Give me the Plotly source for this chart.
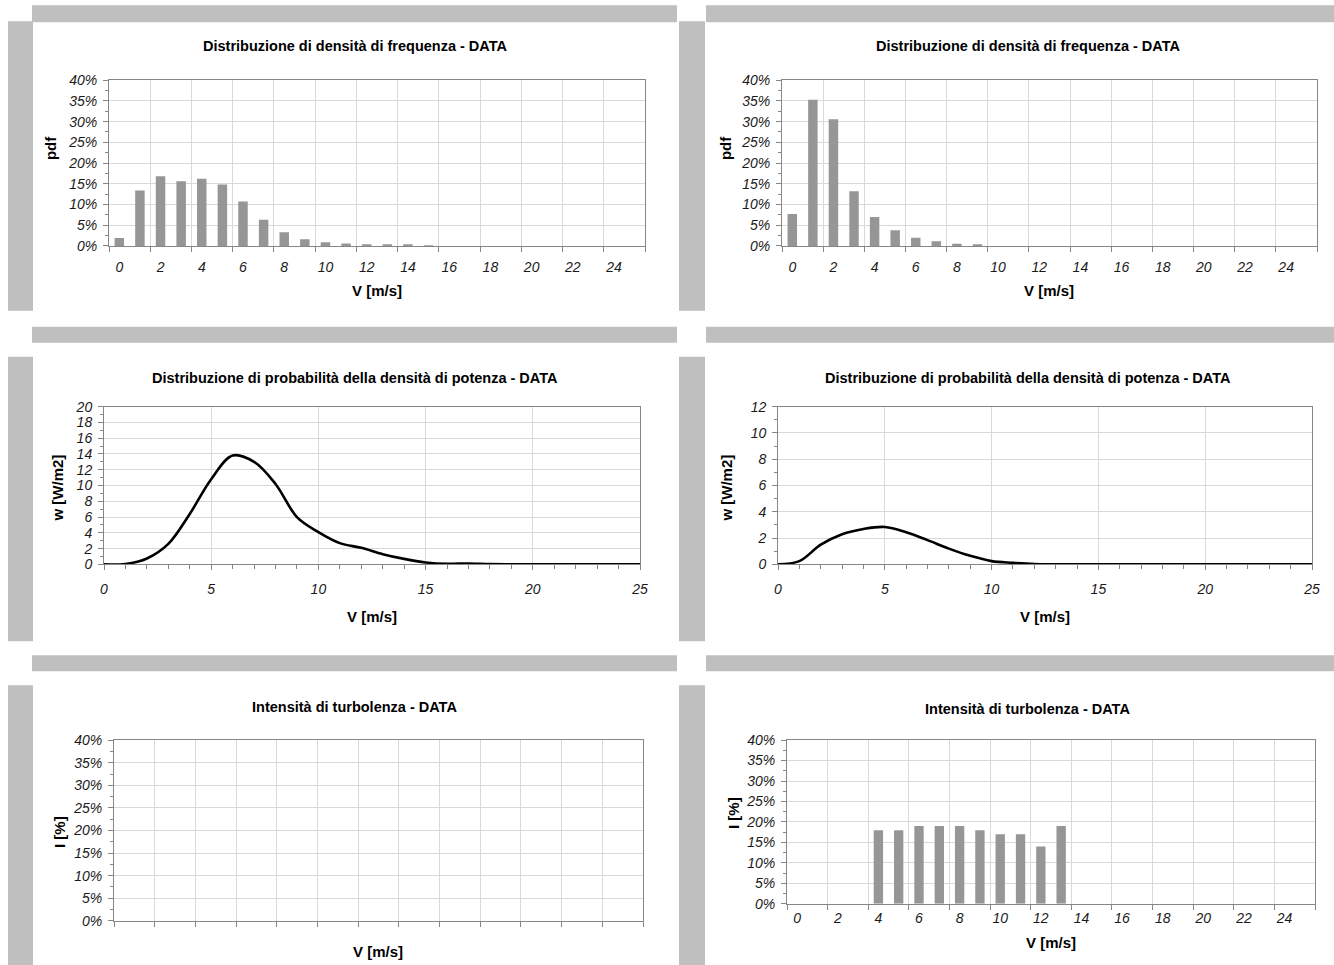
import plotly.graph_objects as go

W, H = 1334, 965

# ---------------- data ----------------
speed_bins = list(range(26))
speed_labels = [str(v) for v in range(0, 25, 2)]

pdf_left = [0.019, 0.134, 0.168, 0.156, 0.162, 0.148, 0.107, 0.063, 0.033, 0.016,
            0.009, 0.006, 0.004, 0.003, 0.002, 0.0015, 0, 0, 0, 0,
            0, 0, 0, 0, 0, 0]
pdf_right = [0.077, 0.353, 0.306, 0.132, 0.070, 0.038, 0.020, 0.011, 0.005, 0.003,
             0, 0, 0, 0, 0, 0, 0, 0, 0, 0,
             0, 0, 0, 0, 0, 0]

power_speed = list(range(26))
power_left = [0, 0.05, 0.75, 2.6, 6.4, 10.8, 13.8, 13.0, 10.2, 6.0,
              4.1, 2.7, 2.1, 1.3, 0.7, 0.25, 0.07, 0.12, 0.03, 0.01,
              0, 0, 0, 0, 0, 0]
power_right = [0, 0.25, 1.5, 2.3, 2.7, 2.85, 2.45, 1.85, 1.2, 0.65,
               0.25, 0.12, 0.03, 0.01, 0, 0, 0, 0, 0, 0,
               0, 0, 0, 0, 0, 0]

turb_bins = [4, 5, 6, 7, 8, 9, 10, 11, 12, 13]
turb_right = [0.18, 0.18, 0.19, 0.19, 0.19, 0.18, 0.17, 0.17, 0.14, 0.19]

title_freq = "Distribuzione di densità di frequenza - DATA"
title_pow = "Distribuzione di probabilità della densità di potenza - DATA"
title_turb = "Intensità di turbolenza - DATA"
xlab = "V [m/s]"

# ---------------- styles ----------------
FONT = "Liberation Sans, Arial, sans-serif"
BAND = "#bfbfbf"
BAR = "#969696"
GRID = "#d9d9d9"
AXIS = "#868686"
TXT = "#1a1a1a"

# mapping from target picture pixels to figure pixels (compensates page framing)
SX, OX = 0.991, 4.0
SY, OY = 0.985, 6.7


def px(x):
    return ((x - OX) / SX) / W


def py(y):
    return 1 - ((y - OY) / SY) / H


fig = go.Figure()

# panel geometry in target pixels: (x0, x1, ytop, ybottom)
panels = {
    1: (109, 645, 79, 245),
    2: (782, 1317, 79, 245),
    3: (104, 640, 406, 564),
    4: (778, 1312, 406, 564),
    5: (114, 643, 740, 921),
    6: (787, 1315, 740, 904),
}

tickfont = dict(family=FONT, size=14, color=TXT, style="italic")


def base_axes(n):
    x0, x1, yt, yb = panels[n]
    xa = dict(domain=[px(x0), px(x1)], anchor=f"y{n}", showline=True, linecolor=AXIS,
              linewidth=1, mirror=True, tickfont=tickfont, zeroline=False,
              fixedrange=True)
    ya = dict(domain=[py(yb), py(yt)], anchor=f"x{n}", showline=True, linecolor=AXIS,
              linewidth=1, mirror=True, tickfont=tickfont, zeroline=False,
              gridcolor=GRID, gridwidth=1, ticks="outside", ticklen=5, tickcolor=AXIS,
              fixedrange=True, ticklabelstandoff=3)
    return xa, ya


def cat_xaxis(xa, labels=True, standoff=12):
    bounds = [b - 0.5 for b in range(0, 27, 2)]
    xa.update(range=[-0.5, 25.5], showgrid=False, ticks="",
              minor=dict(tickmode="array", tickvals=bounds, ticks="outside", ticklen=5,
                         tickcolor=AXIS, showgrid=True, gridcolor=GRID, gridwidth=1))
    if labels:
        xa.update(tickmode="array", tickvals=list(range(0, 25, 2)), ticktext=speed_labels,
                  showticklabels=True, ticklabelstandoff=standoff)
    else:
        xa.update(tickmode="array", tickvals=[], showticklabels=False)
    return xa


def pct_yaxis(ya):
    ya.update(range=[0, 0.4], tickmode="linear", tick0=0, dtick=0.05, tickformat=".0%",
              minor=dict(tickmode="linear", tick0=0, dtick=0.025, ticks="outside",
                         ticklen=3, tickcolor=AXIS, showgrid=False))
    return ya


layout_axes = {}

# Panel 1 & 2: frequency density bars
for n, vals in ((1, pdf_left), (2, pdf_right)):
    fig.add_trace(go.Bar(x=speed_bins, y=vals, width=0.46, marker=dict(color=BAR, line=dict(width=0)),
                         xaxis=f"x{n}", yaxis=f"y{n}", showlegend=False))
    xa, ya = base_axes(n)
    layout_axes[f"xaxis{n}"] = cat_xaxis(xa, True, 8)
    layout_axes[f"yaxis{n}"] = pct_yaxis(ya)

# Panel 3 & 4: power density curves
for n, vals, ymax in ((3, power_left, 20), (4, power_right, 12)):
    fig.add_trace(go.Scatter(x=power_speed, y=vals, mode="lines",
                             line=dict(color="black", width=2.6, shape="spline", smoothing=1.0),
                             xaxis=f"x{n}", yaxis=f"y{n}", showlegend=False))
    xa, ya = base_axes(n)
    xa.update(range=[0, 25], tickmode="linear", tick0=0, dtick=5, showgrid=True, gridcolor=GRID,
              ticks="outside", ticklen=5, tickcolor=AXIS, ticklabelstandoff=7,
              minor=dict(tickmode="linear", tick0=0, dtick=1, ticks="outside", ticklen=4,
                         tickcolor=AXIS, showgrid=False))
    ya.update(range=[0, ymax], tickmode="linear", tick0=0, dtick=2,
              minor=dict(tickmode="linear", tick0=0, dtick=1, ticks="outside", ticklen=3,
                         tickcolor=AXIS, showgrid=False))
    layout_axes[f"xaxis{n}"] = xa
    layout_axes[f"yaxis{n}"] = ya

# Panel 5: empty turbulence chart
fig.add_trace(go.Bar(x=[], y=[], xaxis="x5", yaxis="y5", showlegend=False))
xa, ya = base_axes(5)
layout_axes["xaxis5"] = cat_xaxis(xa, False)
layout_axes["yaxis5"] = pct_yaxis(ya)

# Panel 6: turbulence bars
fig.add_trace(go.Bar(x=turb_bins, y=turb_right, width=0.46, marker=dict(color=BAR, line=dict(width=0)),
                     xaxis="x6", yaxis="y6", showlegend=False))
xa, ya = base_axes(6)
layout_axes["xaxis6"] = cat_xaxis(xa, True, 1)
layout_axes["yaxis6"] = pct_yaxis(ya)

# ---------------- decorations ----------------
shapes = []


def band(x0, y0, x1, y1):
    shapes.append(dict(type="rect", xref="paper", yref="paper", x0=px(x0), x1=px(x1),
                       y0=py(y1), y1=py(y0), fillcolor=BAND, line=dict(width=0), layer="below"))


for (tx0, lx0, lx1) in ((32, 8, 33), (706, 679, 705)):
    tx1 = 677 if tx0 == 32 else 1345
    band(tx0, 4, tx1, 21)
    band(tx0, 326, tx1, 342)
    band(tx0, 655, tx1, 671)
    band(lx0, 20, lx1, 310)
    band(lx0, 356, lx1, 641)
    band(lx0, 685, lx1, 975)

annotations = []


def text(s, x, y, size=14.5, angle=0):
    annotations.append(dict(text=f"<b>{s}</b>", xref="paper", yref="paper", x=px(x), y=py(y),
                            xanchor="center", yanchor="middle", showarrow=False, textangle=angle,
                            font=dict(family=FONT, size=size, color="black")))


# chart titles
text(title_freq, 355, 45)
text(title_freq, 1028, 45)
text(title_pow, 355, 377)
text(title_pow, 1028, 377)
text(title_turb, 354, 707)
text(title_turb, 1027, 709)

# x-axis titles
text(xlab, 377, 290, 15)
text(xlab, 1049, 290, 15)
text(xlab, 372, 616, 15)
text(xlab, 1045, 616, 15)
text(xlab, 378, 952, 15)
text(xlab, 1051, 943, 15)

# y-axis titles
text("pdf", 50, 147, 15, angle=-90)
text("pdf", 725, 147, 15, angle=-90)
text("w [W/m2]", 58, 488, 15, angle=-90)
text("w [W/m2]", 727, 488, 15, angle=-90)
text("I [%]", 60, 832, 15, angle=-90)
text("I [%]", 733, 813, 15, angle=-90)

fig.update_layout(
    width=W, height=H, autosize=False,
    margin=dict(l=0, r=0, t=0, b=0),
    paper_bgcolor="white", plot_bgcolor="white",
    font=dict(family=FONT, size=14, color=TXT),
    shapes=shapes, annotations=annotations,
    bargap=0.54,
    hovermode=False,
    **layout_axes,
)

fig.write_html("out.html", config={"displayModeBar": False},
               post_script="document.body.style.margin='0';document.body.style.overflow='hidden';")
